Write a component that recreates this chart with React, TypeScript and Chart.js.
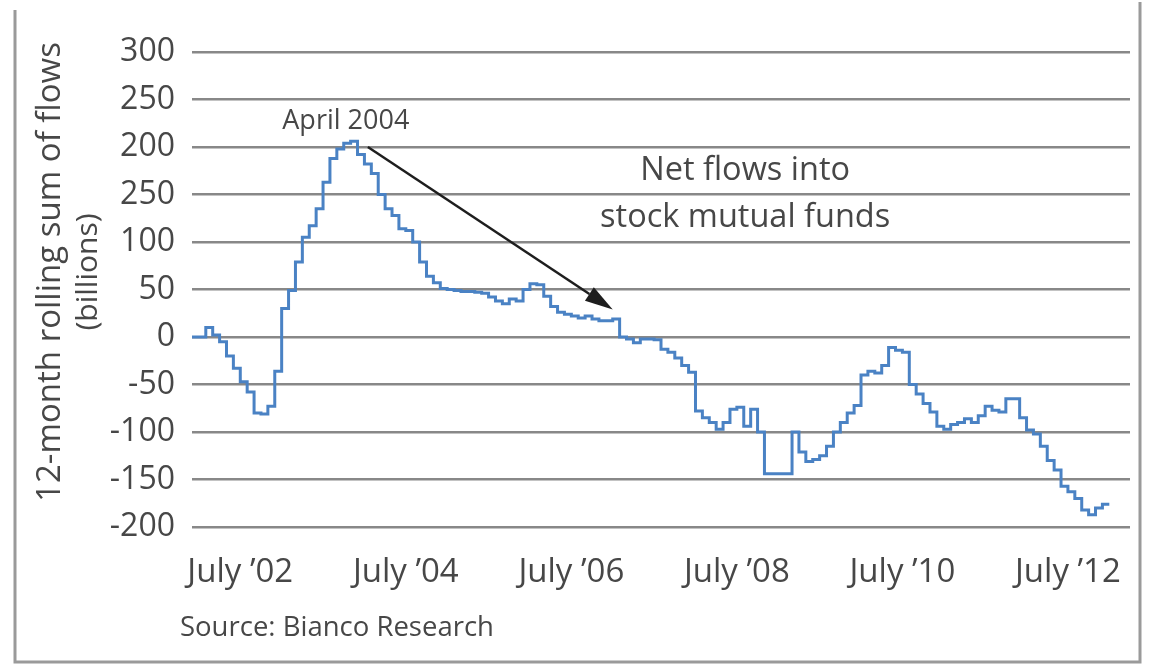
import React, { useEffect, useRef } from "react";
import { Chart, registerables } from "chart.js";

Chart.register(...registerables);

// Monthly 12-month rolling sum of net flows (billions), Dec 2001 .. Jan 2013
const FLOWS: number[] = [
  0, 0, 10, 2, -5, -20, -33, -47, -58, -80,
  -81, -73, -36, 30, 49, 79, 105, 117, 135, 163,
  188, 198, 204, 206, 192, 182, 172, 150, 135, 128,
  114, 112, 100, 79, 64, 57, 51, 50, 49, 48,
  48, 47, 46, 42, 38, 35, 40, 38, 50, 56,
  55, 43, 32, 26, 24, 22, 20, 22, 19, 17,
  17, 19, 0, -2, -6, -2, -2, -3, -13, -16,
  -22, -30, -37, -78, -85, -90, -97, -90, -76, -74,
  -94, -76, -100, -144, -144, -144, -144, -100, -121, -131,
  -129, -125, -115, -100, -90, -80, -72, -40, -36, -38,
  -30, -11, -14, -16, -50, -60, -70, -79, -94, -97,
  -92, -90, -86, -90, -83, -73, -77, -79, -65, -65,
  -85, -98, -102, -115, -130, -140, -157, -163, -170, -182,
  -187, -180, -176, -176,
];

const X_TICK_MONTHS = [7, 31, 55, 79, 103, 127];
const X_TICK_LABELS = ["July \u201902", "July \u201904", "July \u201906", "July \u201908", "July \u201910", "July \u201912"];
const Y_TICK_VALUES = [300, 250, 200, 150, 100, 50, 0, -50, -100, -150, -200];
const Y_TICK_LABELS = ["300", "250", "200", "250", "100", "50", "0", "-50", "-100", "-150", "-200"];
const Y_TITLE = ["12-month rolling sum of flows", "(billions)"];
const PEAK_LABEL = "April 2004";
const PEAK_LABEL_AT = { x: 22.3, y: 227 };
const ARROW_FROM = { x: 25.5, y: 200 };
const ARROW_TO = { x: 61, y: 29 };
const NOTE_LINES = ["Net flows into", "stock mutual funds"];
const NOTE_AT = { x: 80.2, y: [175, 125.5] };
const SOURCE = "Source: Bianco Research";

const FONT = "'Open Sans', 'Noto Sans', sans-serif";
const TEXT = "#474747";

const decorations = {
  id: "decorations",
  afterDraw(chart: any) {
    const { ctx } = chart;
    const xs = chart.scales.x;
    const ys = chart.scales.y;
    ctx.save();
    // frame
    ctx.strokeStyle = "#9a9a9a";
    ctx.lineWidth = 3;
    ctx.beginPath();
    ctx.moveTo(15, 10);
    ctx.lineTo(15, 662);
    ctx.lineTo(1140, 662);
    ctx.lineTo(1140, 2);
    ctx.stroke();

    // y title
    ctx.fillStyle = TEXT;
    ctx.textAlign = "center";
    ctx.textBaseline = "middle";
    const lineX = [51, 88];
    const lineSize = [33, 30];
    Y_TITLE.forEach((t, i) => {
      ctx.save();
      ctx.font = `${lineSize[i]}px ${FONT}`;
      ctx.translate(lineX[i], 272);
      ctx.rotate(-Math.PI / 2);
      ctx.fillText(t, 0, 0);
      ctx.restore();
    });

    // peak label
    ctx.font = `27px ${FONT}`;
    ctx.fillText(PEAK_LABEL, xs.getPixelForValue(PEAK_LABEL_AT.x), ys.getPixelForValue(PEAK_LABEL_AT.y));

    // note
    ctx.font = `32.5px ${FONT}`;
    NOTE_LINES.forEach((t, i) => {
      ctx.fillText(t, xs.getPixelForValue(NOTE_AT.x), ys.getPixelForValue(NOTE_AT.y[i]));
    });

    // source
    ctx.textAlign = "left";
    ctx.font = `27.5px ${FONT}`;
    ctx.fillText(SOURCE, 180, 628);

    // arrow
    const x1 = xs.getPixelForValue(ARROW_FROM.x);
    const y1 = ys.getPixelForValue(ARROW_FROM.y);
    const x2 = xs.getPixelForValue(ARROW_TO.x);
    const y2 = ys.getPixelForValue(ARROW_TO.y);
    const ang = Math.atan2(y2 - y1, x2 - x1);
    const headLen = 28;
    const headHalf = 8;
    const bx = x2 - headLen * Math.cos(ang);
    const by = y2 - headLen * Math.sin(ang);
    ctx.strokeStyle = "#1e1e1e";
    ctx.fillStyle = "#1e1e1e";
    ctx.lineWidth = 2.5;
    ctx.beginPath();
    ctx.moveTo(x1, y1);
    ctx.lineTo(bx, by);
    ctx.stroke();
    ctx.beginPath();
    ctx.moveTo(x2, y2);
    ctx.lineTo(bx + headHalf * Math.sin(ang), by - headHalf * Math.cos(ang));
    ctx.lineTo(bx - headHalf * Math.sin(ang), by + headHalf * Math.cos(ang));
    ctx.closePath();
    ctx.fill();
    ctx.restore();
  },
};

export default function App() {
  const ref = useRef<HTMLCanvasElement | null>(null);
  useEffect(() => {
    document.body.style.margin = "0";
    document.body.style.background = "#ffffff";
    const canvas = ref.current;
    if (!canvas) return;
    const chart = new Chart(canvas, {
      type: "line",
      data: {
        datasets: [
          {
            data: FLOWS.map((v, i) => ({ x: i, y: v })),
            borderColor: "#4a82c4",
            borderWidth: 3,
            pointRadius: 0,
            stepped: true,
            fill: false,
          },
        ],
      },
      options: {
        animation: false,
        responsive: false,
        devicePixelRatio: 1,
        layout: { padding: { left: 0, top: 52, right: 21, bottom: 64 } },
        plugins: { legend: { display: false }, tooltip: { enabled: false }, title: { display: false } },
        scales: {
          x: {
            type: "linear",
            min: 0,
            max: 136,
            grid: { display: false },
            border: { display: false },
            afterFit: (s: any) => { s.height = 80; },
            afterBuildTicks: (s: any) => { s.ticks = X_TICK_MONTHS.map((v) => ({ value: v })); },
            ticks: {
              autoSkip: false,
              maxRotation: 0,
              minRotation: 0,
              padding: 18,
              color: TEXT,
              font: { family: FONT, size: 33 },
              callback: (v: any) => {
                const i = X_TICK_MONTHS.indexOf(Number(v));
                return i >= 0 ? X_TICK_LABELS[i] : "";
              },
            },
          },
          y: {
            min: -200,
            max: 300,
            afterFit: (s: any) => { s.width = 192; },
            afterBuildTicks: (s: any) => { s.ticks = Y_TICK_VALUES.map((v) => ({ value: v })); },
            grid: { color: "#888888", lineWidth: 2.6, drawTicks: false },
            border: { display: false },
            ticks: {
              padding: 17,
              color: TEXT,
              font: { family: FONT, size: 32 },
              callback: (v: any) => {
                const i = Y_TICK_VALUES.indexOf(Number(v));
                return i >= 0 ? Y_TICK_LABELS[i] : "";
              },
            },
          },
        },
      },
      plugins: [decorations],
    });
    return () => chart.destroy();
  }, []);
  return <canvas ref={ref} width={1151} height={671} style={{ display: "block" }} />;
}
